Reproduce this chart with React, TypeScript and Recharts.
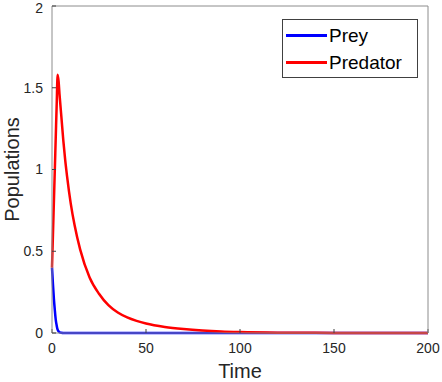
import { Legend, Line, LineChart, XAxis, YAxis } from "recharts";

const times = [
  0, 0.5, 1, 1.5, 2, 2.5, 3, 3.5, 4, 5, 6, 7, 8, 10, 12, 15, 20, 25, 30, 35, 40,
  45, 50, 60, 70, 80, 90, 100, 120, 140, 160, 200,
];
const prey = [
  0.4, 0.3, 0.21, 0.14, 0.08, 0.045, 0.02, 0.01, 0.005, 0.001, 0, 0, 0, 0, 0, 0,
  0, 0, 0, 0, 0, 0, 0, 0, 0, 0, 0, 0, 0, 0, 0, 0,
];
const predator = [
  0.4, 0.6, 0.8, 1.0, 1.2, 1.4, 1.58, 1.54, 1.46, 1.32, 1.18, 1.06, 0.96, 0.79,
  0.66, 0.51, 0.34, 0.24, 0.17, 0.125, 0.095, 0.074, 0.058, 0.037, 0.024, 0.015,
  0.009, 0.0055, 0.002, 0.0009, 0.0004, 0,
];
const xTicks = [0, 50, 100, 150, 200];
const yTicks = [0, 0.5, 1, 1.5, 2];
const seriesNames = ["Prey", "Predator"];
const seriesColors = ["#0000ff", "#ff0000"];

const data = times.map((t, i) => ({ t, prey: prey[i], predator: predator[i] }));

const font = '"Liberation Sans", Arial, Helvetica, sans-serif';
const tickStyle = { fill: "#262626", fontSize: 14, fontFamily: font };
const axisStroke = "#8c8c8c";
const tickStroke = "#404040";

function LegendBox() {
  return (
    <div
      style={{
        boxSizing: "border-box",
        width: 136,
        height: 59,
        border: "1px solid #404040",
        background: "#fff",
        fontFamily: font,
        fontSize: 19,
        color: "#000",
        padding: "2px 0 0 3px",
      }}
    >
      {seriesNames.map((name, i) => (
        <div
          key={name}
          style={{ display: "flex", alignItems: "center", height: 27 }}
        >
          <span
            style={{
              display: "inline-block",
              width: 41,
              height: 2.5,
              background: seriesColors[i],
              marginRight: 2,
            }}
          />
          <span>{name}</span>
        </div>
      ))}
    </div>
  );
}

export default function App() {
  return (
    <div style={{ position: "absolute", left: 0, top: 0, background: "#fff" }}>
      <LineChart
        width={442}
        height={382}
        data={data}
        margin={{ top: 5, right: 13, bottom: 0, left: 0 }}
      >
        <XAxis
          dataKey="t"
          type="number"
          domain={[0, 200]}
          ticks={xTicks}
          height={49}
          tickSize={-4}
          tickMargin={14}
          tick={tickStyle}
          axisLine={{ stroke: axisStroke }}
          tickLine={{ stroke: tickStroke }}
          label={{
            value: "Time",
            position: "insideBottom",
            offset: 4,
            style: { fontSize: 20, fill: "#262626", fontFamily: font },
          }}
        />
        <XAxis
          xAxisId="top"
          dataKey="t"
          type="number"
          orientation="top"
          domain={[0, 200]}
          ticks={xTicks}
          height={1}
          tickSize={-4}
          tick={false}
          axisLine={{ stroke: axisStroke }}
          tickLine={{ stroke: tickStroke }}
        />
        <YAxis
          type="number"
          domain={[0, 2]}
          ticks={yTicks}
          width={52}
          tickSize={-4}
          tickMargin={13}
          tick={tickStyle}
          axisLine={{ stroke: axisStroke }}
          tickLine={{ stroke: tickStroke }}
          label={{
            value: "Populations",
            angle: -90,
            position: "center",
            dx: -14,
            style: { fontSize: 20, fill: "#262626", fontFamily: font },
          }}
        />
        <YAxis
          yAxisId="right"
          orientation="right"
          type="number"
          domain={[0, 2]}
          ticks={yTicks}
          width={1}
          tickSize={-4}
          tick={false}
          axisLine={{ stroke: axisStroke }}
          tickLine={{ stroke: tickStroke }}
        />
        <Legend
          layout="horizontal"
          align="center"
          verticalAlign="middle"
          wrapperStyle={{ top: 19, left: 282, width: 136, height: 59 }}
          content={() => <LegendBox />}
        />
        <Line
          type="monotone"
          dataKey="prey"
          name="Prey"
          stroke={seriesColors[0]}
          strokeWidth={2.5}
          dot={false}
          activeDot={false}
          isAnimationActive={false}
        />
        <Line
          type="monotone"
          dataKey="predator"
          name="Predator"
          stroke={seriesColors[1]}
          strokeWidth={2.5}
          dot={false}
          activeDot={false}
          isAnimationActive={false}
        />
      </LineChart>
    </div>
  );
}
